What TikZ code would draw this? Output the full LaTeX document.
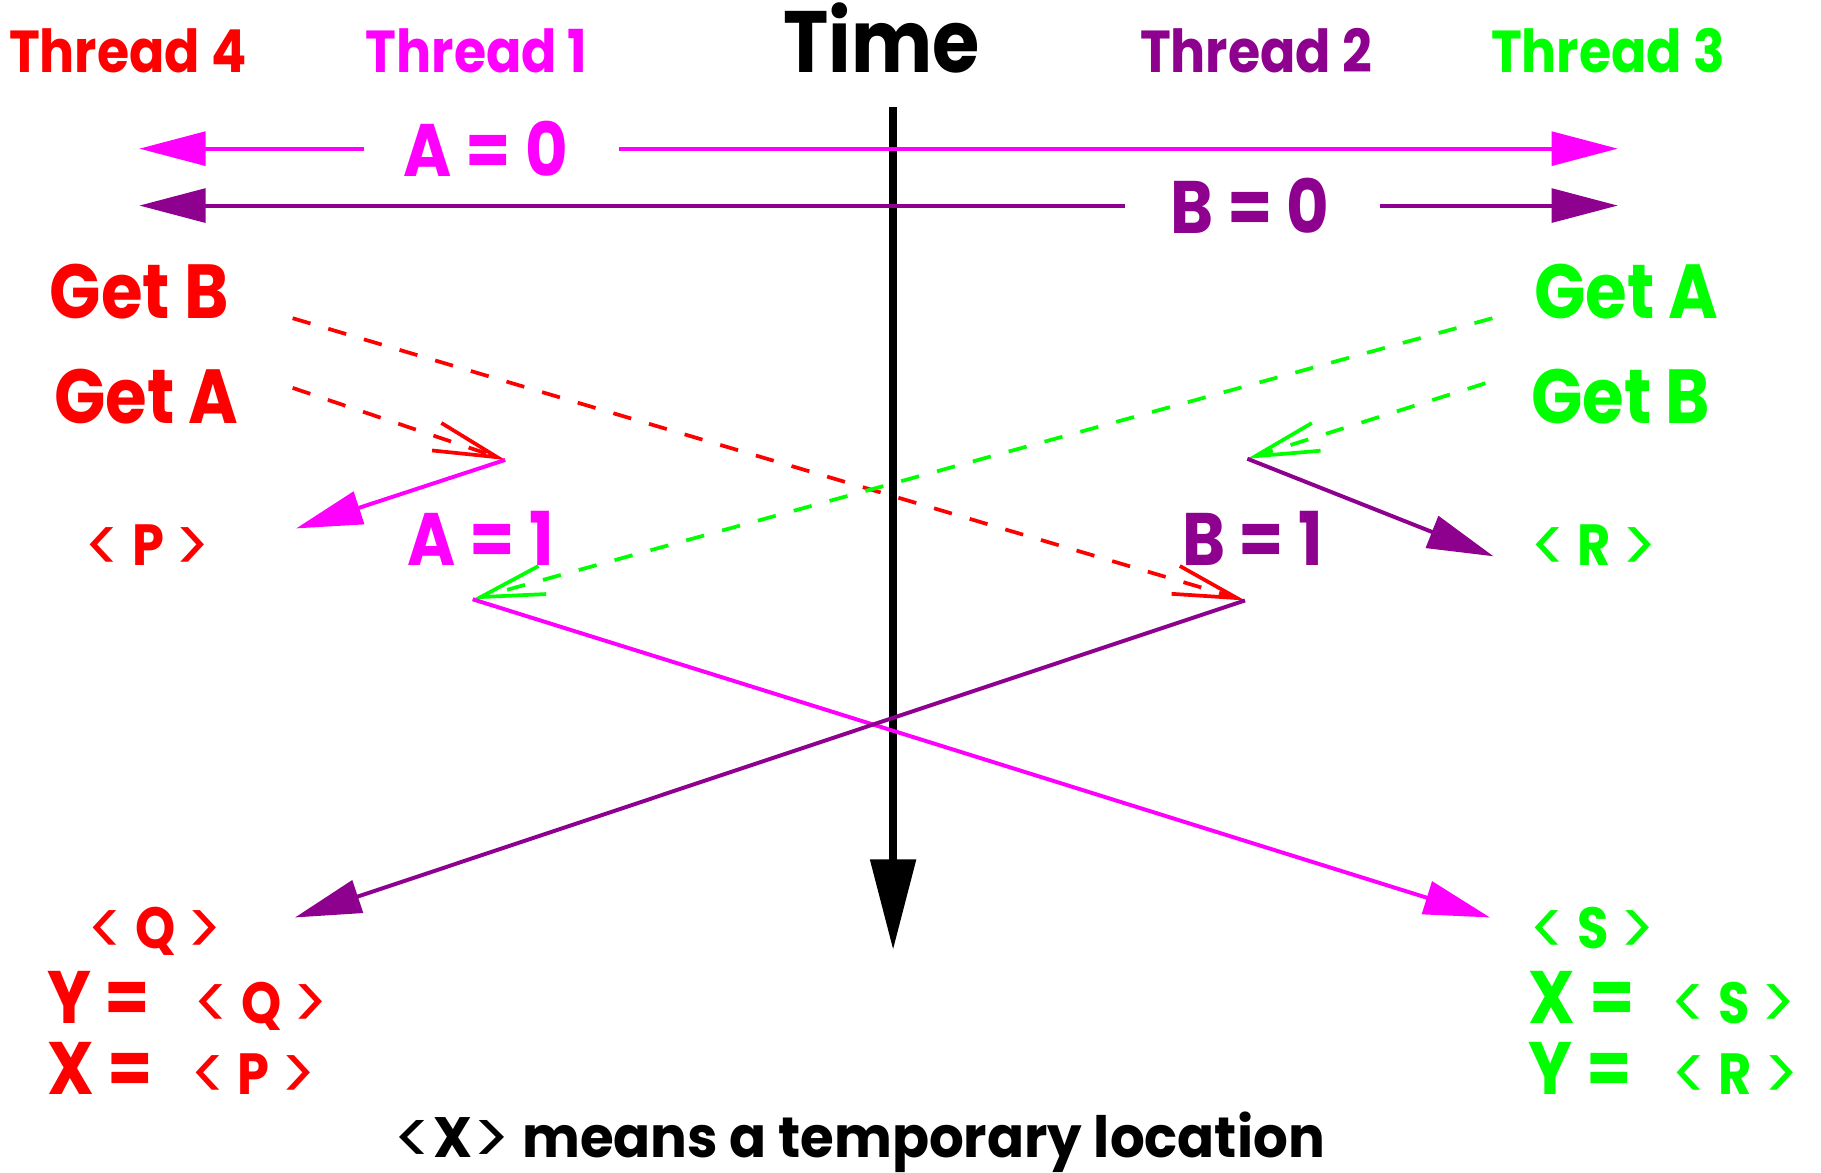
\documentclass[tikz,border=0pt]{standalone}
\usepackage{fontspec}
\setmainfont{Poppins}[FakeStretch=0.88]
\usetikzlibrary{arrows.meta}
\definecolor{tred}{HTML}{FF0000}
\definecolor{tmag}{HTML}{FF00FF}
\definecolor{tpur}{HTML}{8E008E}
\definecolor{tgrn}{HTML}{00FF00}
\newcommand\lch{\raisebox{-0.116em}{\fontsize{1.3em}{1.3em}\selectfont\mdseries<}}
\newcommand\rch{\raisebox{-0.116em}{\fontsize{1.3em}{1.3em}\selectfont\mdseries>}}
\begin{document}
\begin{tikzpicture}[x=1pt,y=-1pt,
  lbl/.style={inner sep=0pt, anchor=base},
  hdr/.style={lbl, font=\bfseries\fontsize{51}{51}\selectfont},
  big/.style={lbl, font=\bfseries\fontsize{64}{64}\selectfont},
  getlbl/.style={lbl, font=\bfseries\fontsize{66}{66}\selectfont},
  tmp/.style={lbl, font=\bfseries\fontsize{50}{50}\selectfont},
  solidarrow/.style={line width=3.4pt, -{Triangle[length=57pt,width=29pt]}},
  dasharrow/.style={line width=3.2pt, dash pattern=on 16pt off 16pt, -{Straight Barb[length=55pt,width=25pt]}},
  timearrow/.style={line width=7pt, -{Triangle[length=78pt,width=38pt]}},
]
\useasboundingbox (0,0) rectangle (1568,1010);

% headers
\node[hdr, text=tred] (t4) at (110,62) {Thread 4};
\node[hdr, text=tmag] (t1) at (410.5,62) {Thread 1};
\node[lbl, font=\bfseries\fontsize{75}{75}\selectfont] (time) at (759,62) {Time};
\node[hdr, text=tpur] (t2) at (1081.5,62) {Thread 2};
\node[hdr, text=tgrn] (t3) at (1384.5,62) {Thread 3};

% time axis
\coordinate (tTop) at (769,92);
\coordinate (tBot) at (769,818);
\draw[timearrow] (tTop) -- (tBot);

% initial values
\node[big, text=tmag] (a0) at (418.5,152) {A = 0};
\coordinate (a0L) at (120,128);
\coordinate (a0Lg) at (313,128);
\coordinate (a0Rg) at (533,128);
\coordinate (a0R) at (1393,128);
\draw[solidarrow, tmag] (a0Lg) -- (a0L);
\draw[solidarrow, tmag] (a0Rg) -- (a0R);

\node[big, text=tpur] (b0) at (1076,201) {B = 0};
\coordinate (b0L) at (120,177);
\coordinate (b0Lg) at (969,177);
\coordinate (b0Rg) at (1188,177);
\coordinate (b0R) at (1393,177);
\draw[solidarrow, tpur] (b0Lg) -- (b0L);
\draw[solidarrow, tpur] (b0Rg) -- (b0R);

% reads
\node[getlbl, text=tred] (rgb) at (120,274) {Get B};
\node[getlbl, text=tred] (rga) at (126,365) {Get A};
\node[getlbl, text=tgrn] (gga) at (1400.5,274) {Get A};
\node[getlbl, text=tgrn] (ggb) at (1395.5,365) {Get B};

\coordinate (sRB) at (252,274);
\coordinate (sRA) at (252,334);
\coordinate (sGA) at (1285,274);
\coordinate (sGB) at (1279,330);

\coordinate (j1) at (435,396);
\coordinate (j2) at (1074,395);
\coordinate (j3) at (407,516);
\coordinate (j4) at (1072,517);

\coordinate (pP) at (255,455);
\coordinate (pR) at (1286,479);
\coordinate (pQ) at (254,790);
\coordinate (pS) at (1283,790);

\draw[dasharrow, tred] (sRB) -- (j4);
\draw[dasharrow, tred] (sRA) -- (j1);
\draw[dasharrow, tgrn] (sGA) -- (j3);
\draw[dasharrow, tgrn] (sGB) -- (j2);

\draw[solidarrow, tmag] (j1) -- (pP);
\draw[solidarrow, tpur] (j2) -- (pR);
\draw[solidarrow, tmag] (j3) -- (pS);
\draw[solidarrow, tpur] (j4) -- (pQ);

% writes and temporaries
\node[tmp, text=tred] (tP) at (127,487) {\lch{} P \rch};
\node[big, text=tmag] (a1) at (414,487) {A = 1};
\node[big, text=tpur] (b1) at (1078.5,487) {B = 1};
\node[tmp, text=tgrn] (tR) at (1372.5,487) {\lch{} R \rch};
\node[tmp, text=tred] (tQ) at (133.5,817) {\lch{} Q \rch};
\node[tmp, text=tgrn] (tS) at (1371,817) {\lch{} S \rch};

% results
\node[big, text=tred] (ry) at (85,881) {Y =};
\node[tmp, text=tred] (ryv) at (224.5,881) {\lch{} Q \rch};
\node[big, text=tred] (rx) at (86.5,942) {X =};
\node[tmp, text=tred] (rxv) at (218,942) {\lch{} P \rch};
\node[big, text=tgrn] (gx) at (1362,881) {X =};
\node[tmp, text=tgrn] (gxv) at (1492.5,881) {\lch{} S \rch};
\node[big, text=tgrn] (gy) at (1360.5,942) {Y =};
\node[tmp, text=tgrn] (gyv) at (1494,942) {\lch{} R \rch};

% note
\node[lbl, font=\bfseries\fontsize{49}{49}\selectfont\addfontfeatures{FakeStretch=0.96}] (note) at (740,997) {\lch{}X\rch{} means a temporary location};
\end{tikzpicture}
\end{document}
